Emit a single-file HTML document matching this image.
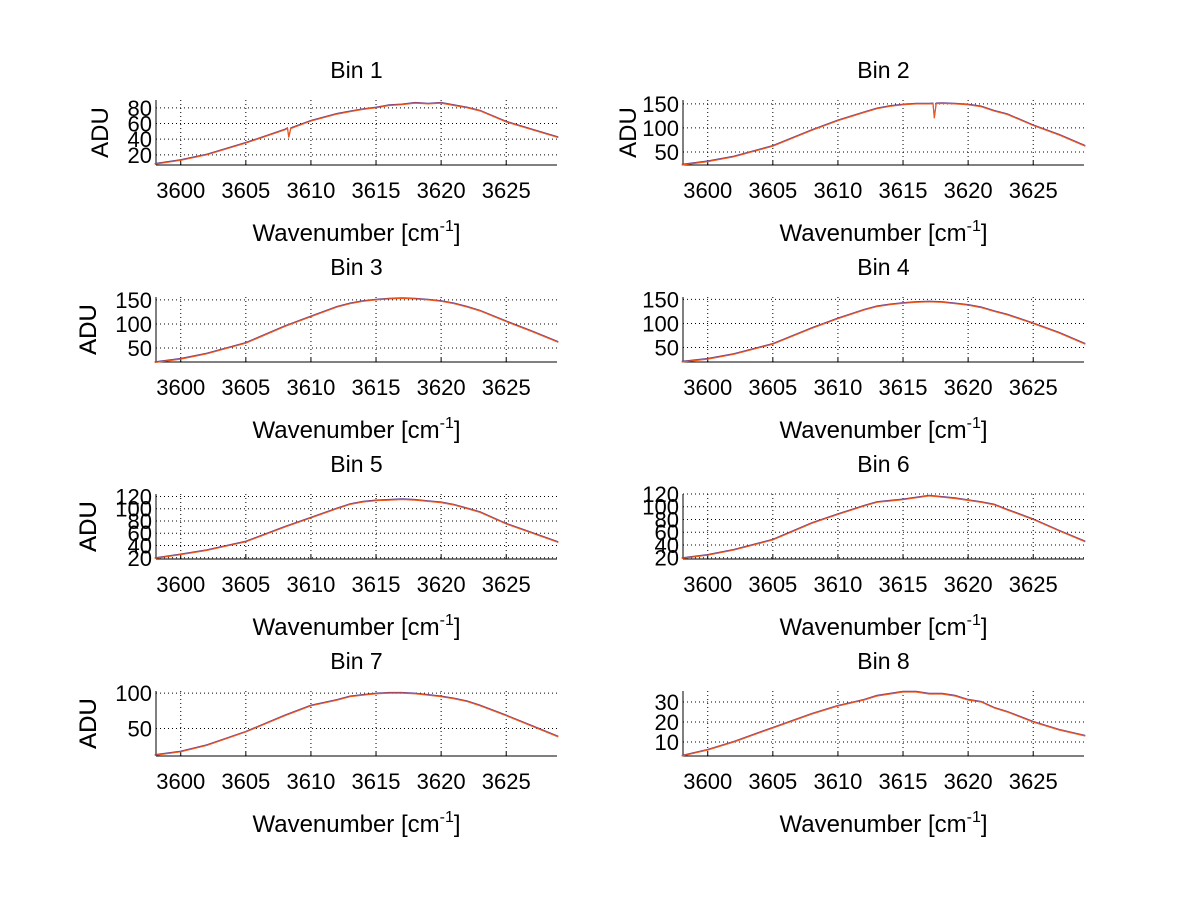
<!DOCTYPE html>
<html><head><meta charset="utf-8"><style>
body{margin:0;background:#fff;}
svg{display:block;font-family:"Liberation Sans",sans-serif;}
</style></head><body>
<svg id="fig" width="1200" height="901" viewBox="0 0 1200 901"></svg>
<script>
// Shared x knots (wavenumber, cm^-1)
const knots = [3598,3600,3602,3605,3608,3610,3612,3613,3614,3615,3616,3617,3618,3619,3620,3621,3622,3623,3625,3627,3629];
const xTicks = [3600,3605,3610,3615,3620,3625];
const titles = ["Bin 1","Bin 2","Bin 3","Bin 4","Bin 5","Bin 6","Bin 7","Bin 8"];
const yRanges = [[7,90],[23,158],[21,156],[20,155],[18,124],[18,120],[11,103],[3,35.5]];
const yTicks1 = [20,40,60,80];
const yTicks2 = [50,100,150];
const yTicks3 = [50,100,150];
const yTicks4 = [50,100,150];
const yTicks5 = [20,40,60,80,100,120];
const yTicks6 = [20,40,60,80,100,120];
const yTicks7 = [50,100];
const yTicks8 = [10,20,30];
const bin1 = [8,13,20,35,52,63,72,75,78,80,83,84,86,85,86,83,80,76,62,52,42];
const bin2 = [23,30,40,62,95,115,132,140,145,148,150,150,151,150,148,144,135,128,105,85,62];
const bin3 = [20,27,38,60,95,115,135,142,147,150,152,153,152,150,147,142,135,127,105,84,62];
const bin4 = [20,26,36,57,90,110,128,135,139,142,144,145,144,141,138,133,125,118,100,80,57];
const bin5 = [19,25,32,46,70,85,100,107,111,113,114,115,114,112,110,106,100,94,75,60,45];
const bin6 = [19,24,32,48,74,88,101,107,109,111,114,117,115,113,110,107,103,95,80,62,45];
const bin7 = [12,17,26,45,68,82,90,95,97,99,100,100,99,97,95,92,88,82,68,53,38];
const bin8 = [3,6,10,17,24,28,31,33,34,35,35,34,34,33,31,30,27,25,20,16,13];
const series = [bin1,bin2,bin3,bin4,bin5,bin6,bin7,bin8];
const yTickSets = [yTicks1,yTicks2,yTicks3,yTicks4,yTicks5,yTicks6,yTicks7,yTicks8];
// Dips (absorption lines) per bin: [x, value]
const dips = [[3608.3,42],[3617.4,120],null,null,null,null,null,null];

const NS="http://www.w3.org/2000/svg";
const svg=document.getElementById('fig');
function mk(tag,attrs,parent){const e=document.createElementNS(NS,tag);for(const k in attrs)e.setAttribute(k,attrs[k]);(parent||svg).appendChild(e);return e;}
const XMIN=3598.1, XMAX=3628.9;
const colL=[156,683], colW=401, rowT=[100,297,494,691], rowH=65;

for(let i=0;i<8;i++){
  const c=i%2, r=Math.floor(i/2);
  const L=colL[c], T=rowT[r], B=T+rowH, R=L+colW;
  const [y0,y1]=yRanges[i];
  const xs=v=>L+(v-XMIN)/(XMAX-XMIN)*colW;
  const ys=v=>B-(v-y0)/(y1-y0)*rowH;
  const g=mk('g',{});
  
  
  xTicks.forEach(t=>{const l=mk('line',{x1:xs(t),x2:xs(t),y1:T,y2:B,stroke:'#000','stroke-width':1,'stroke-dasharray':'1,3'},g);
    
    const tx=mk('text',{x:xs(t),y:B+33,'font-size':22,'text-anchor':'middle'},g);tx.textContent=t;
    
    mk('line',{x1:xs(t),x2:xs(t),y1:B,y2:B-4,stroke:'#000'},g);});
  yTickSets[i].forEach(t=>{const l=mk('line',{x1:L,x2:R,y1:ys(t),y2:ys(t),stroke:'#000','stroke-width':1,'stroke-dasharray':'1,3'},g);
    
    const tx=mk('text',{x:L-4,y:ys(t)+8,'font-size':22,'text-anchor':'end'},g);tx.textContent=t;
    });
  mk('line',{x1:L,x2:L,y1:T,y2:B,stroke:'#000'},g);
  mk('line',{x1:L,x2:R,y1:B,y2:B,stroke:'#000'},g);
  const pts=[];
  const d=series[i];
  for(let k=0;k<knots.length;k++){
    pts.push([knots[k],d[k]]);
    if(dips[i]&&knots[k]<dips[i][0]&&knots[k+1]>dips[i][0]){
      const f=(dips[i][0]-knots[k])/(knots[k+1]-knots[k]);
      const base=d[k]+(d[k+1]-d[k])*f;
      pts.push([dips[i][0]-0.1,base]);pts.push([dips[i][0],dips[i][1]]);pts.push([dips[i][0]+0.15,base]);
    }
  }
  const pb=mk('polyline',{points:pts.map(p=>xs(p[0]).toFixed(1)+','+(ys(p[1])-0.7).toFixed(1)).join(' '),fill:'none',stroke:'#5a3c9a','stroke-width':1},g);
  
  const pl=mk('polyline',{points:pts.map(p=>xs(p[0]).toFixed(1)+','+ys(p[1]).toFixed(1)).join(' '),fill:'none',stroke:'#f0561a','stroke-width':1.2},g);
  
  const ti=mk('text',{x:L+colW/2,y:T-22,'font-size':23,'text-anchor':'middle'},g);ti.textContent=titles[i];
  
  const xl=mk('text',{x:L+colW/2,y:B+76,'font-size':24,'text-anchor':'middle'},g);
  xl.innerHTML='Wavenumber [cm<tspan dy="-10" font-size="16">-1</tspan><tspan dy="10">]</tspan>';
  
  const yl=mk('text',{x:0,y:0,'font-size':24,'text-anchor':'middle',transform:`translate(${r===0?(c===0?108:636):96},${T+rowH/2}) rotate(-90)`},g);
  yl.textContent='ADU';
  
}
</script>
</body></html>
